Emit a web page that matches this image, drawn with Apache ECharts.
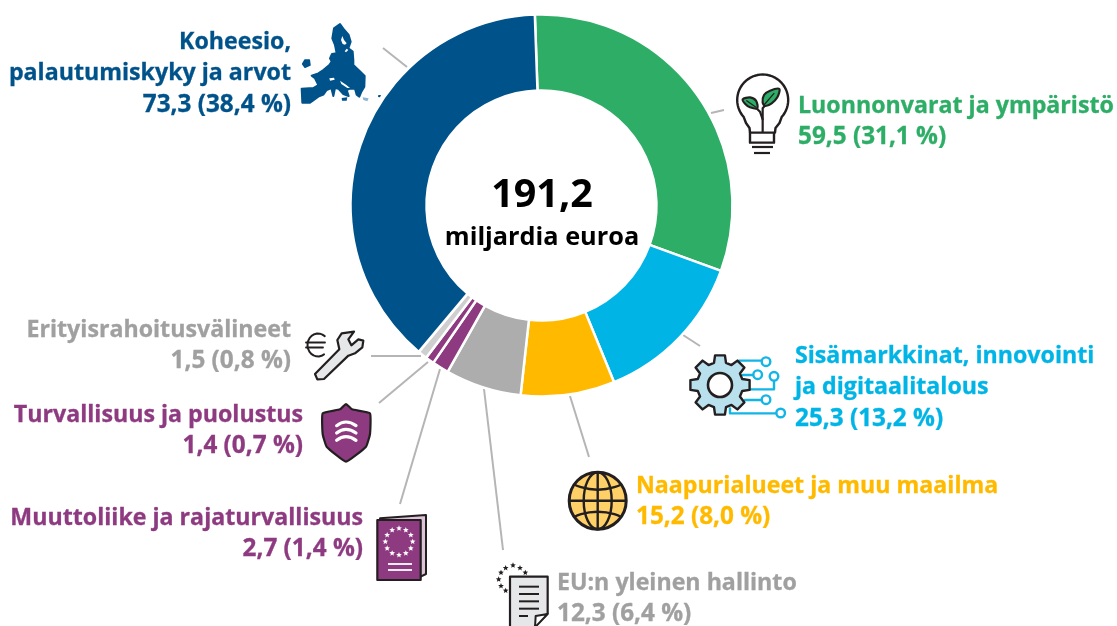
<!DOCTYPE html>
<html><head><meta charset="utf-8">
<style>html,body{margin:0;padding:0;background:#fff}#c{width:1117px;height:626px}</style>
<script src="https://cdn.jsdelivr.net/npm/echarts@6/dist/echarts.min.js"></script>
</head><body><div id="c"></div>
<script>
const categories = ['Luonnonvarat ja ympäristö','Sisämarkkinat, innovointi\nja digitaalitalous','Naapurialueet ja muu maailma','EU:n yleinen hallinto','Muuttoliike ja rajaturvallisuus','Turvallisuus ja puolustus','Erityisrahoitusvälineet','Koheesio,\npalautumiskyky ja arvot'];
const values = [59.5,25.3,15.2,12.3,2.7,1.4,1.5,73.3];
const shares = [31.1,13.2,8.0,6.4,1.4,0.7,0.8,38.4];
const colors = ['#2dad66','#00b4e6','#ffba00','#adadad','#8e3a80','#8e3a80','#cfcfcf','#00528a'];
const textColors = ['#2dad66','#00b4e6','#ffba00','#a0a0a0','#8e3a80','#8e3a80','#a0a0a0','#00528a'];
const totalValue = '191,2';
const totalUnit = 'miljardia euroa';

const fi = v => v.toFixed(1).replace('.',',');
const FONT = '"Open Sans"';
const DARK = '#231f20';
const els = [];
const anchors = [[798,106,'left'],[795,356,'left'],[636,486,'left'],[557,583,'left'],[363,518,'right'],[303,415,'right'],[291,330,'right'],[291,42,'right']];
categories.forEach((c,i)=>{
  const names = c.split('\n');
  const lines = names.concat(fi(values[i])+' ('+fi(shares[i])+' %)');
  lines.forEach((t,k)=>els.push({type:'text',z:10,x:anchors[i][0],y:anchors[i][1]+k*31.4,style:{text:t,fill:textColors[i],stroke:textColors[i],lineWidth:0.3,font:'700 '+(k<names.length?23.2:24.3)+'px '+FONT,textAlign:anchors[i][2],textVerticalAlign:'middle'}}));
});
els.push({type:'text',z:10,x:542,y:196,style:{text:totalValue,fill:'#000',font:'700 39.5px '+FONT,textAlign:'center',textVerticalAlign:'middle'}});
els.push({type:'text',z:10,x:542,y:238,style:{text:totalUnit,fill:'#000',font:'700 25.3px '+FONT,textAlign:'center',textVerticalAlign:'middle'}});

[[383,48,407,67],[711,113,724,110],[683,335,700,346],[570,396,589,457],[484,389,503,550],[440,369,400,504],[428,362,379,403],[371,356,421,356]].forEach(l=>
  els.push({type:'line',shape:{x1:l[0],y1:l[1],x2:l[2],y2:l[3]},style:{stroke:'#b5b5b5',lineWidth:2}}));

const Z = (ox,oy,pts)=>pts.map(p=>[ox+p[0]/3,oy+p[1]/3]);
const poly = (pts,fill,stroke,lw,smooth)=>els.push({type:'polygon',shape:{points:pts,smooth:smooth||0},style:{fill:fill,stroke:stroke||null,lineWidth:lw||0,lineJoin:'round'}});
const pline = (pts,stroke,lw,smooth)=>els.push({type:'polyline',shape:{points:pts,smooth:smooth||0},style:{stroke:stroke,lineWidth:lw,fill:null,lineCap:'round',lineJoin:'round'}});
const circ = (x,y,r,fill,stroke,lw)=>els.push({type:'circle',shape:{cx:x,cy:y,r:r},style:{fill:fill,stroke:stroke||null,lineWidth:lw||0}});
const star = (x,y,r,fill)=>{const p=[];for(let i=0;i<10;i++){const a=-Math.PI/2+i*Math.PI/5,q=i%2?r*0.45:r;p.push([x+q*Math.cos(a),y+q*Math.sin(a)]);}poly(p,fill);};

// EU map
const BL='#00528a';
poly(Z(290,10,[[150,42],[163,60],[176,75],[182,95],[175,115],[188,125],[190,150],[190,165],[208,182],[224,198],[223,230],[214,245],[208,260],[200,254],[195,236],[180,236],[170,240],[176,258],[160,252],[145,236],[135,234],[130,258],[124,234],[110,240],[100,254],[85,260],[60,278],[37,278],[35,236],[70,234],[85,225],[75,205],[65,197],[85,190],[100,180],[118,165],[125,155],[120,145],[126,132],[140,130],[135,105],[127,85],[132,55]]),BL,BL,2);
poly(Z(290,10,[[45,150],[58,150],[60,165],[45,172],[38,162]]),BL,BL,1.5);
poly(Z(290,10,[[157,78],[162,90],[170,100],[165,104],[158,102],[153,90]]),'#fff');
poly(Z(290,10,[[170,116],[175,120],[168,127],[164,124]]),'#fff');
poly(Z(290,10,[[118,205],[132,203],[134,209],[120,212]]),'#fff');
poly(Z(290,10,[[150,212],[168,224],[180,234],[172,234],[154,222]]),'#fff');
poly(Z(290,10,[[155,264],[172,262],[170,272],[156,272]]),BL);
poly(Z(290,10,[[265,255],[273,255],[270,262],[264,261]]),BL);
poly(Z(290,10,[[218,262],[236,265],[232,274],[220,270]]),'#8fb4cf');

// bulb
const bc=[762.7,100], br=25.5, bulb=[];
for(let a=222;a>=-42;a-=6){const t=a*Math.PI/180;bulb.push([bc[0]+br*Math.cos(t),bc[1]-br*Math.sin(t)]);}
pline([[750,132.5],[749.5,128],[746,123]].concat(bulb).concat([[779.5,123],[775.5,128],[775,132.5]]),DARK,2.4);
poly(Z(700,60,[[150,218],[222,218],[222,248],[150,248]]),'#fff',DARK,2.4);
els.push({type:'line',shape:{x1:752,y1:147,x2:773,y2:147},style:{stroke:DARK,lineWidth:2.2}});
els.push({type:'line',shape:{x1:754,y1:153,x2:770,y2:153},style:{stroke:DARK,lineWidth:2.2}});
pline(Z(700,60,[[188,216],[188,145],[208,122]]),DARK,2.2);
pline(Z(700,60,[[188,178],[180,155],[165,140]]),DARK,2.2);
poly(Z(700,60,[[188,128],[192,105],[210,92],[238,87],[232,112],[215,130],[196,138]]),'#2dad66',DARK,2.2,0.3);
poly(Z(700,60,[[128,118],[150,112],[168,122],[172,145],[150,142],[136,132]]),'#2dad66',DARK,2.2,0.3);
pline(Z(700,60,[[192,135],[222,100]]),DARK,1.2);
pline(Z(700,60,[[140,122],[168,142]]),DARK,1.2);

// gear and circuit
const CY='#12b5e5';
[[[208,92],[275,92]],[[218,135],[250,135]],[[240,178],[312,178],[312,152]],[[225,210],[275,210]],[[180,235],[180,250],[318,250]]].forEach(l=>pline(Z(670,330,l),CY,2.4));
[[288,95],[263,134],[312,139],[288,209],[332,249]].forEach(p=>{const q=Z(670,330,[p])[0];circ(q[0],q[1],4.3,'#fff',CY,2.4);});
const gx=720,gy=385,gear=[],teeth=8,Ro=30,Ri=23;
for(let i=0;i<teeth;i++){const a0=i*2*Math.PI/teeth-Math.PI/2;const w=2*Math.PI/teeth;
 [[-0.32,Ri],[-0.2,Ro],[0.2,Ro],[0.32,Ri]].forEach(s=>{const t=a0+s[0]*w*1.05;gear.push([gx+s[1]*Math.cos(t),gy+s[1]*Math.sin(t)]);});}
poly(gear,'#b9e1ed',DARK,2.4);
circ(gx,gy,12,'#fff',DARK,2.6);

// globe
const g0=[597.7,500.7],gr=28.5;
circ(g0[0],g0[1],gr,'#ffd067',DARK,3);
els.push({type:'line',shape:{x1:g0[0],y1:g0[1]-gr,x2:g0[0],y2:g0[1]+gr},style:{stroke:DARK,lineWidth:2.4}});
els.push({type:'line',shape:{x1:g0[0]-gr,y1:g0[1],x2:g0[0]+gr,y2:g0[1]},style:{stroke:DARK,lineWidth:2.4}});
els.push({type:'ellipse',shape:{cx:g0[0],cy:g0[1],rx:14,ry:gr},style:{fill:null,stroke:DARK,lineWidth:2.4}});
pline([[g0[0]-23,g0[1]-16],[g0[0],g0[1]-11],[g0[0]+23,g0[1]-16]],DARK,2.4,0.6);
pline([[g0[0]-23,g0[1]+16],[g0[0],g0[1]+11],[g0[0]+23,g0[1]+16]],DARK,2.4,0.6);

// wrench and euro
poly(Z(300,290,[[45,252],[118,178],[112,150],[125,130],[162,125],[145,148],[154,166],[175,148],[190,152],[187,172],[165,190],[145,197],[72,267],[52,268]]),'#e6e7e8',DARK,2.2);
const euro=[];for(let a=50;a<=310;a+=15){const t=a*Math.PI/180;euro.push([318+10.5*Math.cos(t),345-11.5*Math.sin(t)]);}
pline(euro,DARK,2);
pline([[306,342.5],[325,342.5]],DARK,1.8);pline([[306,347.5],[323,347.5]],DARK,1.8);

// shield
poly(Z(300,290,[[68,370],[120,358],[138,342],[156,358],[210,370],[210,432],[198,470],[138,515],[80,470],[68,432]]),'#8e3a80',DARK,2.2,0.12);
[402,424,446].forEach(y=>pline(Z(300,290,[[110,y+5],[138,y-6],[168,y+5]]),'#fff',3.2,0.5));

// passport
poly(Z(360,380,[[60,415],[198,405],[198,582],[182,590]]),'#dcc3d7',DARK,2);
poly(Z(360,380,[[52,420],[182,420],[182,600],[52,600]]),'#8e3a80',DARK,2.2);
for(let i=0;i<12;i++){const t=i*Math.PI/6;star(360+(117+41*Math.cos(t))/3,380+(485+40*Math.sin(t))/3,3,'#fff');}
[552,570].forEach(y=>els.push({type:'line',shape:{x1:388,y1:380+y/3,x2:412,y2:380+y/3},style:{stroke:'#fff',lineWidth:1.8}}));

// document
poly(Z(360,380,[[450,590],[563,590],[563,700],[522,742],[450,742]]),'#e6e7e8',DARK,2.2);
poly(Z(360,380,[[563,702],[527,708],[525,742]]),'#fff',DARK,2);
[620,642,664,686].forEach(y=>els.push({type:'line',shape:{x1:519,y1:380+y/3,x2:539,y2:380+y/3},style:{stroke:DARK,lineWidth:2}}));
els.push({type:'line',shape:{x1:519,y1:380+708/3,x2:528,y2:380+708/3},style:{stroke:DARK,lineWidth:2}});
[[496,578],[480,564],[459,556],[437,564],[423,578],[416,598],[423,618],[437,632]].forEach(p=>{star(360+p[0]/3,380+p[1]/3,3,DARK);});

const chart = echarts.init(document.getElementById('c'),null,{renderer:'canvas'});
chart.setOption({
  animation:false,
  backgroundColor:'#fff',
  series:[{type:'pie',radius:[115,191],center:[541.5,205.5],startAngle:92,silent:true,
    label:{show:false},labelLine:{show:false},
    itemStyle:{borderColor:'#fff',borderWidth:2.5},
    data:categories.map((c,i)=>({name:c.replace('\n',' '),value:values[i],itemStyle:{color:colors[i]}}))}],
  graphic:{elements:els}
});
</script></body></html>
